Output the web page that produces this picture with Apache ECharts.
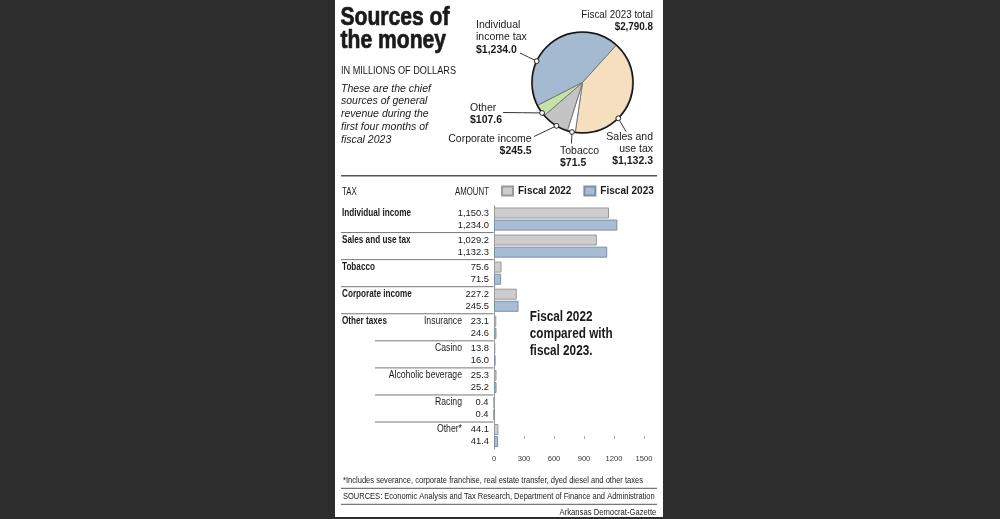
<!DOCTYPE html>
<html><head><meta charset="utf-8">
<script src="https://cdn.jsdelivr.net/npm/echarts@6/dist/echarts.min.js"></script>
<style>
html,body{margin:0;padding:0;background:#2d2d2d;overflow:hidden;}
#panel{position:absolute;left:335px;top:0;width:328px;height:517px;background:#fff;}
#c{position:absolute;left:0;top:0;width:1000px;height:519px;}
</style></head><body><div id="panel"></div><div id="c"></div>
<script>
// ---------- data ----------
const categories = ['Individual income','Sales and use tax','Tobacco','Corporate income','Insurance','Casino','Alcoholic beverage','Racing','Other*'];
const groupLabels = ['Individual income','Sales and use tax','Tobacco','Corporate income','Other taxes','','','',''];
const subLabels = ['','','','','Insurance','Casino','Alcoholic beverage','Racing','Other*'];
const fiscal2022 = [1150.3,1029.2,75.6,227.2,23.1,13.8,25.3,0.4,44.1];
const fiscal2023 = [1234.0,1132.3,71.5,245.5,24.6,16.0,25.2,0.4,41.4];
const xTicks = [0,300,600,900,1200,1500];
const pieNames = ['Individual income tax','Sales and use tax','Tobacco','Corporate income','Other'];
const pieLabelText = ['Individual\nincome tax','Sales and\nuse tax','Tobacco','Corporate income','Other'];
const pieValues = [1234.0,1132.3,71.5,245.5,107.6];
const pieTotal = 2790.8;
const legendNames = ['Fiscal 2022','Fiscal 2023'];

// ---------- styles ----------
const FONT = '"Liberation Sans", Arial, sans-serif';
const INK = '#1a1a1a';
const PIE_COLORS = ['#a4bad0','#f6dfbf','#ffffff','#c4c4c4','#c6e2a8'];
const PC = [582.5, 82.5], PR = 50;

const fmt = v => v.toLocaleString('en-US',{minimumFractionDigits:1, maximumFractionDigits:1});

const cv = document.createElement('canvas').getContext('2d');
function W(t, size, weight, family, style){ cv.font = `${style||'normal'} ${weight||'normal'} ${size}px ${family||FONT}`; return cv.measureText(t).width; }

function txt(id, text, x, y, o){
  const fam = o.family || FONT, wt = o.weight||'normal', st = o.style||'normal';
  let sx = o.sx || 1;
  if (o.width) sx = o.width / W(o.ref || text, o.size, wt, fam, st);
  return {type:'text', id, x, y, scaleX:sx, scaleY:1, z:o.z||5, silent:true,
    style:{text, fontSize:o.size, fontWeight:wt, fontStyle:st, fontFamily:fam, fill:o.color||INK,
      align:o.align||'left', verticalAlign:o.va||'middle', stroke:o.stroke||null, lineWidth:o.sw||0}};
}
function hline(id, x1, x2, y, w, c){ return {type:'line', id, z:5, silent:true, shape:{x1, y1:y, x2, y2:y}, style:{stroke:c||'#555', lineWidth:w||1}}; }

const graphics = [];
// title
const tScale = 109 / W('Sources of', 25.7, 'bold', FONT);
graphics.push(txt('t1','Sources of',340.5,17.5,{size:25.7, weight:'bold', sx:tScale, stroke:INK, sw:0.7}));
graphics.push(txt('t2','the money',340.5,40.8,{size:25.7, weight:'bold', sx:tScale, stroke:INK, sw:0.7}));
graphics.push(txt('unit','IN MILLIONS OF DOLLARS',341,71.3,{size:10.3, width:115}));
const itScale = 87 / W('first four months of', 11.5, 'normal', FONT, 'italic');
['These are the chief','sources of general','revenue during the','first four months of','fiscal 2023'].forEach((s,i)=>{
  graphics.push(txt('it'+i, s, 341, 88.3 + 12.75*i, {size:11.5, style:'italic', sx:itScale}));
});
const totScale = 71.7 / W('Fiscal 2023 total', 10.5, 'normal', FONT);
graphics.push(txt('tot1','Fiscal 2023 total',653,15,{size:10.5, sx:totScale, align:'right'}));
graphics.push(txt('tot2','$' + fmt(pieTotal),653,26.7,{size:10.5, weight:'bold', sx:totScale, align:'right'}));
graphics.push(hline('sep_top',341,657,175.7,1.5,'#555'));
const hdScale = 34 / W('AMOUNT', 10.3, 'normal', FONT);
graphics.push(txt('hTax','TAX',342,191.7,{size:10.3, sx:hdScale}));
graphics.push(txt('hAmt','AMOUNT',489,191.7,{size:10.3, sx:hdScale, align:'right'}));
const anScale = 83 / W('compared with', 14, 'bold', FONT);
['Fiscal 2022','compared with','fiscal 2023.'].forEach((s,i)=>{
  graphics.push(txt('an'+i, s, 529.7, 316.7 + 17.2*i, {size:14, weight:'bold', sx:anScale}));
});
graphics.push(txt('foot','*Includes severance, corporate franchise, real estate transfer, dyed diesel and other taxes',343,480,{size:9.3, width:300}));
graphics.push(hline('sep_f1',341,657,488.3,1,'#555'));
graphics.push(txt('src','SOURCES: Economic Analysis and Tax Research, Department of Finance and Administration',343,496.7,{size:9.3, width:311.7}));
graphics.push(hline('sep_f2',341,657,504.3,1,'#555'));
graphics.push(txt('cred','Arkansas Democrat-Gazette',656.3,512.3,{size:9.3, width:96.7, align:'right'}));

// pie outline + callout dots
const pieCallouts = [
  {angle:155, x:476, y:19, align:'left', end:[520,53]},
  {angle:-45, x:653, y:130.5, align:'right', end:[626,131.5]},
  {angle:-102, x:560, y:145, align:'left', end:[571.5,143.5]},
  {angle:-121, x:531.7, y:133, align:'right', end:[534,136.5]},
  {angle:-143, x:470, y:102, align:'left', end:[503,112.5]}
];
const edge = a => [PC[0] + (PR+0.6)*Math.cos(a*Math.PI/180), PC[1] - (PR+0.6)*Math.sin(a*Math.PI/180)];
graphics.push({type:'circle', id:'ring', z:100, silent:true, shape:{cx:PC[0], cy:PC[1], r:PR+0.6}, style:{fill:null, stroke:'#111', lineWidth:1.5}});
pieCallouts.forEach((c,i)=>{ const e = edge(c.angle);
  graphics.push({type:'circle', id:'dot'+i, z:101, silent:true, shape:{cx:e[0], cy:e[1], r:2.4}, style:{fill:'#fff', stroke:'#222', lineWidth:1}});
});

const chart = echarts.init(document.getElementById('c'), null, {renderer:'canvas'});
const option = {
  backgroundColor:'transparent',
  animation:false,
  textStyle:{fontFamily:FONT},
  legend:{data:legendNames, left:501, top:185.5, padding:0, itemWidth:11, itemHeight:9, itemGap:12, icon:'rect',
    textStyle:{fontFamily:FONT, fontWeight:'bold', fontSize:10, color:INK}, selectedMode:false},
  grid:{left:494, right:356, top:205.5, height:243.6, containLabel:false},
  xAxis:{type:'value', min:xTicks[0], max:xTicks[xTicks.length-1], interval:xTicks[1]-xTicks[0], offset:-13,
    axisLine:{show:false}, axisTick:{show:true, length:3, lineStyle:{color:'#aaa'}}, splitLine:{show:false},
    axisLabel:{fontFamily:FONT, fontSize:7.6, color:'#333', margin:19, formatter:v=>String(v)}},
  yAxis:{type:'category', data:categories, inverse:true, position:'left',
      axisLine:{show:true, lineStyle:{color:'#999', width:1}}, axisTick:{show:false}, splitLine:{show:false},
      axisLabel:{show:false}},
  series:[
    {name:legendNames[0], type:'bar', data:fiscal2022, barWidth:11, barGap:'10%',
      itemStyle:{color:'#cdcdcd', borderColor:'#999', borderWidth:1},
      label:{show:true, position:'left', distance:5, formatter:p=>fmt(p.value), fontFamily:FONT, fontSize:9.4, color:INK}},
    {name:legendNames[1], type:'bar', data:fiscal2023, barWidth:11, barGap:'10%',
      itemStyle:{color:'#a8bdd3', borderColor:'#7b8fa7', borderWidth:1},
      label:{show:true, position:'left', distance:5, formatter:p=>fmt(p.value), fontFamily:FONT, fontSize:9.4, color:INK}},
    {type:'pie', center:PC, radius:[0,PR], startAngle:207, clockwise:true, avoidLabelOverlap:false,
      data:pieNames.map((n,i)=>({name:n, value:pieValues[i], itemStyle:{color:PIE_COLORS[i]}})),
      itemStyle:{borderColor:'#777', borderWidth:1},
      label:{show:true, position:'outside', formatter:p=>`{n|${pieLabelText[p.dataIndex]}}\n{v|$${fmt(p.value)}}`,
        rich:{n:{fontFamily:FONT, fontSize:10.5, lineHeight:12.4, color:INK}, v:{fontFamily:FONT, fontSize:10.5, fontWeight:'bold', lineHeight:12.4, color:INK}}},
      labelLine:{show:true, length:5, length2:5, lineStyle:{color:'#333', width:1}},
      labelLayout:p=>{ const c = pieCallouts[p.dataIndex]; const e = edge(c.angle);
        return {x:c.x, y:c.y, align:c.align, verticalAlign:'top',
          labelLinePoints:[e, [(e[0]+c.end[0])/2,(e[1]+c.end[1])/2], c.end]}; },
      emphasis:{disabled:true}}
  ],
  graphic:{elements:graphics}
};
chart.setOption(option);

// row labels and separator rules, positioned from the category scale
const pix = k => chart.convertToPixel({yAxisIndex:0}, categories[k]);
const band = pix(1) - pix(0);
const rowEls = [];
const mainScale = 69 / W('Individual income', 10.5, 'bold', FONT);
const subScale = 73.3 / W('Alcoholic beverage', 10.5, 'normal', FONT);
for (let k=0;k<categories.length;k++){
  const yc = pix(k), yTop = yc - band/2 + (band - 23.1)/2 + 5.5;
  if (groupLabels[k]) rowEls.push(txt('g'+k, groupLabels[k], 342, yTop, {size:10.5, weight:'bold', sx:mainScale}));
  if (subLabels[k]) rowEls.push(txt('s'+k, subLabels[k], 462, yTop, {size:10.5, sx:subScale, align:'right'}));
  if (k>0) rowEls.push(hline('row'+k, k<=4 ? 341 : 375, 493.5, yc - band/2, 1, '#777'));
}
chart.setOption({graphic:{elements:rowEls}});
</script></body></html>
